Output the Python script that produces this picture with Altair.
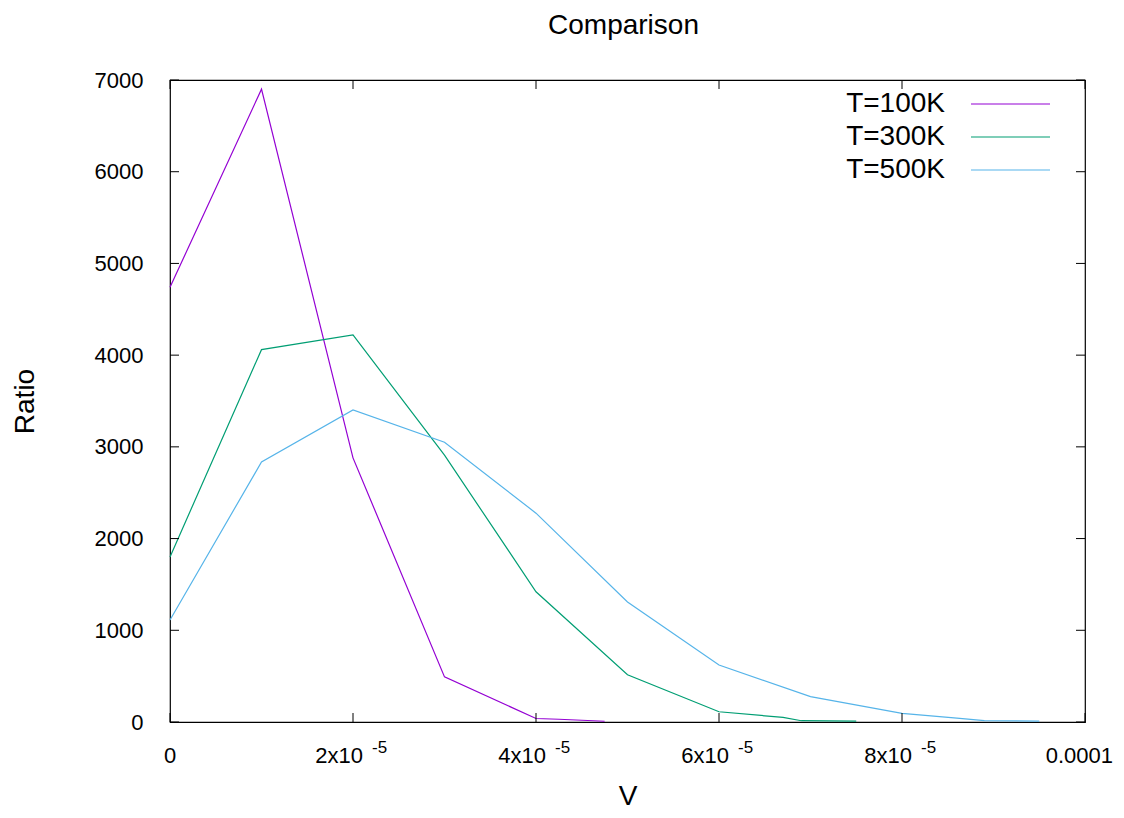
import altair as alt
import pandas as pd

# ---- data ----
series_names = ["T=100K", "T=300K", "T=500K"]
series_colors = ["#9400D3", "#009E73", "#56B4E9"]

v_100 = [0, 1e-5, 2e-5, 3e-5, 4e-5, 4.25e-5, 4.75e-5]
r_100 = [4740, 6900, 2880, 492, 38, 30, 8]

v_300 = [0, 1e-5, 2e-5, 3e-5, 4e-5, 5e-5, 6e-5, 6.7e-5, 6.9e-5, 7.5e-5]
r_300 = [1800, 4060, 4220, 2910, 1420, 515, 112, 50, 14, 10]

v_500 = [0, 1e-5, 2e-5, 3e-5, 4e-5, 5e-5, 6e-5, 7e-5, 8e-5, 8.6e-5, 8.9e-5, 9.5e-5]
r_500 = [1112, 2835, 3402, 3050, 2277, 1309, 622, 276, 95, 43, 14, 10]

x_ticks = [0, 2e-5, 4e-5, 6e-5, 8e-5, 1e-4]
x_tick_base = ["0", "2x10", "4x10", "6x10", "8x10", "0.0001"]
x_tick_sup = ["", "-5", "-5", "-5", "-5", ""]
y_ticks = [0, 1000, 2000, 3000, 4000, 5000, 6000, 7000]

chart_title = ["Comparison"]

# ---- build tables ----
frames = []
for name, vs, rs in [(series_names[0], v_100, r_100),
                     (series_names[1], v_300, r_300),
                     (series_names[2], v_500, r_500)]:
    frames.append(pd.DataFrame({"V": vs, "Ratio": rs, "series": name}))
df = pd.concat(frames, ignore_index=True)

xt_df = pd.DataFrame({"V": x_ticks, "base": x_tick_base, "sup": x_tick_sup})
yt_df = pd.DataFrame({"Ratio": y_ticks})

W, H = 915, 642
FONT = "Liberation Sans"
TICK = 9

xscale = alt.Scale(domain=[0, 1e-4], nice=False, zero=False)
yscale = alt.Scale(domain=[0, 7000], nice=False, zero=False)

lines = alt.Chart(df).mark_line(strokeWidth=1.2).encode(
    x=alt.X("V:Q", scale=xscale,
            axis=alt.Axis(title="V", labels=False, ticks=False, domain=False, grid=False,
                          titleFontSize=28, titleFont=FONT, titleFontWeight="normal",
                          titleColor="black", titleY=82, titleBaseline="alphabetic")),
    y=alt.Y("Ratio:Q", scale=yscale,
            axis=alt.Axis(values=y_ticks, format="d", title="Ratio", labelFontSize=22,
                          labelFont=FONT, labelColor="black", labelPadding=27,
                          ticks=False, domain=False, grid=False, titleFontSize=28,
                          titleFont=FONT, titleFontWeight="normal", titleColor="black",
                          titleX=-137, titleY=H / 2, titleAngle=270,
                          titleBaseline="alphabetic", titleAlign="center")),
    color=alt.Color("series:N", scale=alt.Scale(domain=series_names, range=series_colors),
                    legend=None),
    order="V:Q",
)

# inward tick marks on all four sides
bottom_ticks = alt.Chart(xt_df).mark_rule(color="black", strokeWidth=1).encode(
    x=alt.X("V:Q", scale=xscale), y=alt.value(H), y2=alt.value(H - TICK))
top_ticks = alt.Chart(xt_df).mark_rule(color="black", strokeWidth=1).encode(
    x=alt.X("V:Q", scale=xscale), y=alt.value(0), y2=alt.value(TICK))
left_ticks = alt.Chart(yt_df).mark_rule(color="black", strokeWidth=1).encode(
    y=alt.Y("Ratio:Q", scale=yscale), x=alt.value(0), x2=alt.value(TICK))
right_ticks = alt.Chart(yt_df).mark_rule(color="black", strokeWidth=1).encode(
    y=alt.Y("Ratio:Q", scale=yscale), x=alt.value(W), x2=alt.value(W - TICK))

# x tick labels with superscript exponents
first_lab = alt.Chart(xt_df).transform_filter("datum.sup == '' && datum.V == 0").mark_text(
    align="center", baseline="alphabetic", fontSize=22, font=FONT, color="black"
).encode(x=alt.X("V:Q", scale=xscale), y=alt.value(H + 41), text="base:N")
last_lab = alt.Chart(xt_df).transform_filter("datum.sup == '' && datum.V > 0").mark_text(
    align="right", baseline="alphabetic", fontSize=22, font=FONT, color="black", dx=28
).encode(x=alt.X("V:Q", scale=xscale), y=alt.value(H + 41), text="base:N")
sci_base = alt.Chart(xt_df).transform_filter("datum.sup != ''").mark_text(
    align="right", baseline="alphabetic", fontSize=22, font=FONT, color="black", dx=10
).encode(x=alt.X("V:Q", scale=xscale), y=alt.value(H + 41), text="base:N")
sci_sup = alt.Chart(xt_df).transform_filter("datum.sup != ''").mark_text(
    align="left", baseline="alphabetic", fontSize=17, font=FONT, color="black", dx=19
).encode(x=alt.X("V:Q", scale=xscale), y=alt.value(H + 31), text="sup:N")

# chart title as a text mark
title_layer = alt.Chart(pd.DataFrame({"t": chart_title})).mark_text(
    align="center", baseline="alphabetic", fontSize=28, font=FONT, color="black"
).encode(x=alt.value(W / 2 - 4), y=alt.value(-46), text="t:N")

# legend (labels left of line samples, like gnuplot)
legend_layers = []
for i, (name, col) in enumerate(zip(series_names, series_colors)):
    ldf = pd.DataFrame({"label": [name]})
    legend_layers.append(
        alt.Chart(ldf).mark_text(align="right", baseline="alphabetic", fontSize=28,
                                 font=FONT, color="black").encode(
            x=alt.value(775), y=alt.value(32 + 33 * i), text="label:N"))
    legend_layers.append(
        alt.Chart(ldf).mark_rule(color=col, strokeWidth=1.2).encode(
            x=alt.value(801), x2=alt.value(880), y=alt.value(24 + 33 * i)))

chart = alt.layer(
    lines, bottom_ticks, top_ticks, left_ticks, right_ticks,
    first_lab, last_lab, sci_base, sci_sup, title_layer, *legend_layers
).properties(
    width=W, height=H,
    autosize=alt.AutoSizeParams(type="none"),
    padding={"left": 162, "top": 72, "right": 30, "bottom": 88},
).configure(font=FONT).configure_view(stroke="black", strokeWidth=1.2)

chart.save("out.html", embed_options={"renderer": "svg", "actions": False})
